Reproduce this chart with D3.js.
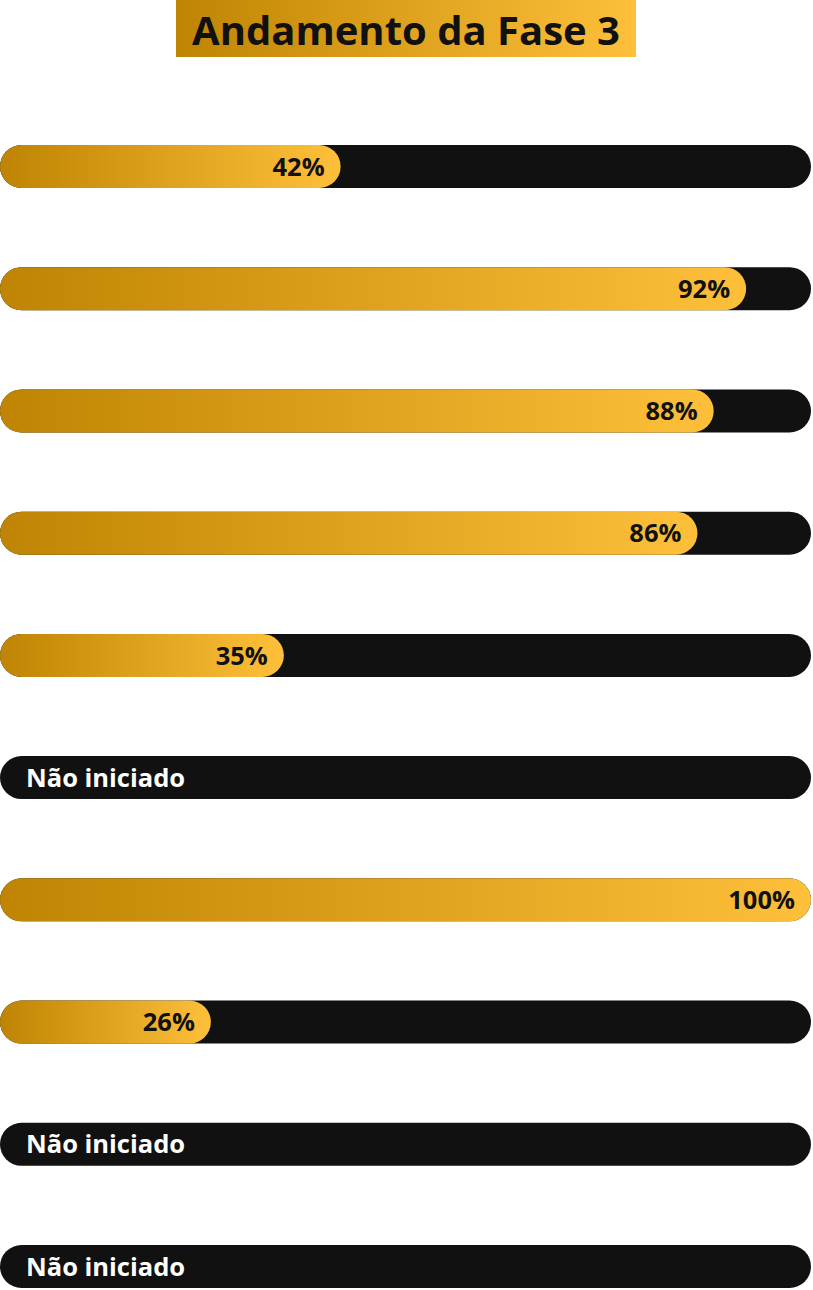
<!DOCTYPE html>
<html><head><meta charset="utf-8">
<script src="https://cdn.jsdelivr.net/npm/d3@7/dist/d3.min.js"></script>
<style>html,body{margin:0;padding:0;background:#fff;}svg{display:block;}</style>
</head><body>
<svg id="chart" width="813" height="1290"></svg>
<script>
const title = "Andamento da Fase 3";
const items = ["f1","f2","f3","f4","f5","f6","f7","f8","f9","f10"];
const values = [42, 92, 88, 86, 35, null, 100, 26, null, null];
const notStartedLabel = "Não iniciado";

const svg = d3.select("#chart");
const defs = svg.append("defs");
const g1 = defs.append("linearGradient").attr("id","gold").attr("x1","0").attr("x2","1").attr("y1","0").attr("y2","0");
g1.append("stop").attr("offset","0%").attr("stop-color","#bf8403");
g1.append("stop").attr("offset","100%").attr("stop-color","#fec03a");

const font = "'Open Sans', 'Noto Sans', sans-serif";

// title
const tx0 = 176, tx1 = 636;
svg.append("rect").attr("x",tx0).attr("y",0).attr("width",tx1-tx0).attr("height",57).attr("fill","url(#gold)");
svg.append("text").attr("x",(tx0+tx1)/2).attr("y",45).attr("text-anchor","middle")
  .attr("font-family",font).attr("font-weight",700).attr("font-size",40).attr("fill","#111").text(title);

const x = d3.scaleLinear().domain([0,100]).range([0, 811]);
const y = d3.scalePoint().domain(items).range([145, 1245]);
const bh = 43;

const rows = svg.selectAll("g.row").data(items.map((k,i)=>({k, v: values[i]}))).enter().append("g").attr("class","row")
  .attr("transform", d => `translate(0,${y(d.k)})`);
rows.append("rect").attr("x",0).attr("y",0).attr("width",x(100)).attr("height",bh).attr("rx",bh/2).attr("fill","#111111");
rows.filter(d=>d.v!=null).append("rect").attr("x",0).attr("y",0).attr("width",d=>x(d.v)).attr("height",bh).attr("rx",bh/2).attr("fill","url(#gold)");
rows.filter(d=>d.v!=null).append("text").attr("x",d=>x(d.v)-16).attr("y",bh/2).attr("dy","0.36em").attr("text-anchor","end")
  .attr("font-family",font).attr("font-weight",700).attr("font-size",25.5).attr("fill","#111").text(d=>d.v+"%");
rows.filter(d=>d.v==null).append("text").attr("x",26).attr("y",bh/2).attr("dy","0.36em")
  .attr("font-family",font).attr("font-weight",700).attr("font-size",25.5).attr("fill","#fff").text(notStartedLabel);
</script>
</body></html>
